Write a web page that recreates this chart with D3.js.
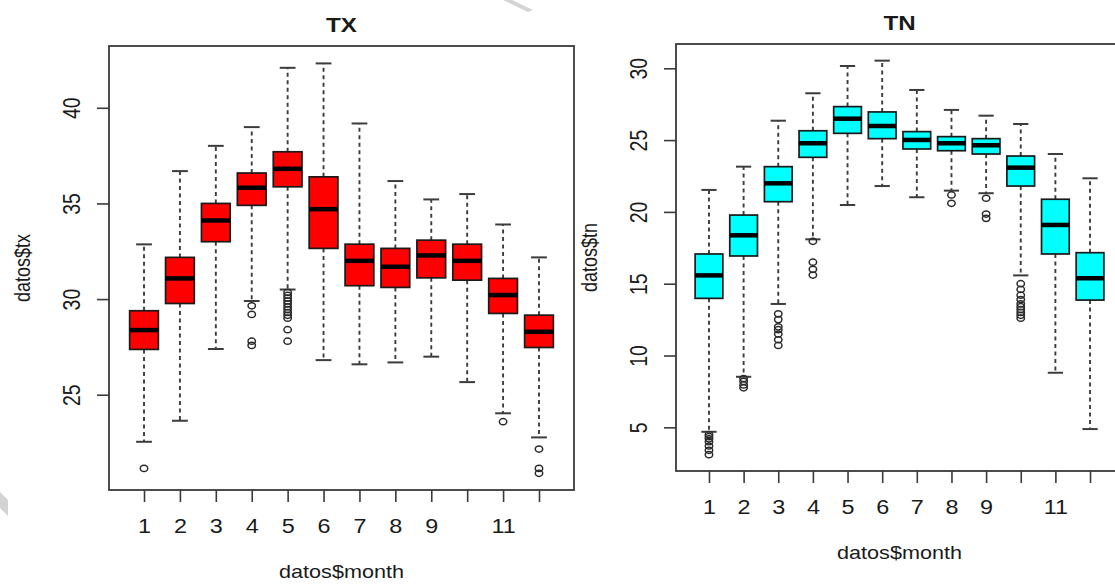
<!DOCTYPE html>
<html>
<head>
<meta charset="utf-8">
<script src="https://cdn.jsdelivr.net/npm/d3@7"></script>
<style>
  html, body { margin: 0; padding: 0; background: #fff; }
  svg { display: block; }
  text { font-family: "Liberation Sans", Arial, Helvetica, sans-serif; fill: #1a1a1a; }
</style>
</head>
<body>
<svg id="chart" width="1115" height="584"></svg>
<script>
// ---------- DATA ----------
const months = [1, 2, 3, 4, 5, 6, 7, 8, 9, 10, 11, 12];
const monthTickLabels = ["1", "2", "3", "4", "5", "6", "7", "8", "9", "", "11", ""];

// TX (maximum temperature)
const txLowWhisker  = [22.54, 23.64, 27.39, 29.90, 30.50, 26.81, 26.59, 26.69, 26.99, 25.66, 24.03, 22.77];
const txQ1          = [27.37, 29.77, 33.00, 34.90, 35.87, 32.65, 30.70, 30.61, 31.11, 30.99, 29.25, 27.47];
const txMedian      = [28.38, 31.08, 34.11, 35.82, 36.81, 34.70, 32.00, 31.69, 32.28, 32.00, 30.21, 28.29];
const txQ3          = [29.39, 32.18, 35.00, 36.59, 37.70, 36.39, 32.87, 32.65, 33.08, 32.87, 31.08, 29.16];
const txHighWhisker = [32.86, 36.69, 38.01, 38.99, 42.09, 42.32, 39.18, 36.17, 35.21, 35.49, 33.90, 32.18];
const txOutliers = [
  [21.15],
  [],
  [],
  [29.65, 29.2, 27.8, 27.58],
  [30.35, 30.2, 30.05, 29.9, 29.75, 29.6, 29.45, 29.3, 29.15, 29.0, 28.4, 27.8],
  [],
  [],
  [],
  [],
  [],
  [23.59],
  [22.16, 21.15, 20.89]
];
const txTicks = [25, 30, 35, 40];

// TN (minimum temperature)
const tnLowWhisker  = [4.69, 8.52, 13.59, 18.09, 20.48, 21.80, 21.02, 21.48, 21.30, 15.58, 8.80, 4.88];
const tnQ1          = [13.98, 16.93, 20.71, 23.80, 25.47, 25.10, 24.38, 24.26, 24.03, 21.80, 17.07, 13.86];
const tnMedian      = [15.58, 18.37, 21.99, 24.78, 26.49, 25.98, 25.01, 24.78, 24.64, 23.08, 19.09, 15.38];
const tnQ3          = [17.07, 19.78, 23.15, 25.65, 27.33, 26.96, 25.59, 25.24, 25.10, 23.89, 20.88, 17.16];
const tnHighWhisker = [21.53, 23.15, 26.35, 28.26, 30.16, 30.53, 28.49, 27.10, 26.70, 26.12, 24.03, 22.34];
const tnOutliers = [
  [4.5, 4.35, 4.2, 4.0, 3.7, 3.4, 3.1],
  [8.4, 8.2, 7.95, 7.75],
  [12.9, 12.5, 12.0, 11.8, 11.5, 11.1, 10.7],
  [17.95, 16.5, 16.0, 15.6],
  [],
  [],
  [],
  [21.18, 20.6],
  [20.95, 19.85, 19.55],
  [15.0, 14.6, 14.2, 13.9, 13.6, 13.4, 13.2, 13.0, 12.8, 12.6],
  [],
  []
];
const tnTicks = [5, 10, 15, 20, 25, 30];

// ---------- DRAWING ----------
const svg = d3.select("#chart");
svg.append("rect").attr("width", 1115).attr("height", 584).attr("fill", "#fff");

const SX = 1.2; // horizontal stretch of the original picture

function drawPanel(opt) {
  const { left, right, top, bottom, pad, yDomain, fill, title, ylab,
          lowW, q1, med, q3, highW, outliers, ticks } = opt;
  const g = svg.append("g");
  const x = d3.scalePoint().domain(months).range([left, right]).padding(pad);
  const y = d3.scaleLinear().domain(yDomain).range([bottom, top]);
  const step = x.step();
  const bw = step * 0.8;
  const sw = bw * 0.55;

  const data = months.map((m, i) => ({
    m, lo: lowW[i], q1: q1[i], med: med[i], q3: q3[i], hi: highW[i], out: outliers[i]
  }));

  // whiskers (dashed)
  const wg = g.append("g").attr("stroke", "#3c3c3c").attr("stroke-width", 1.9);
  wg.selectAll("line.wu").data(data).join("line")
    .attr("x1", d => x(d.m)).attr("x2", d => x(d.m))
    .attr("y1", d => y(d.q3)).attr("y2", d => y(d.hi))
    .attr("stroke-dasharray", "4,3.5");
  wg.selectAll("line.wl").data(data).join("line")
    .attr("x1", d => x(d.m)).attr("x2", d => x(d.m))
    .attr("y1", d => y(d.q1)).attr("y2", d => y(d.lo))
    .attr("stroke-dasharray", "4,3.5");
  // staples
  wg.selectAll("line.su").data(data).join("line")
    .attr("x1", d => x(d.m) - sw / 2).attr("x2", d => x(d.m) + sw / 2)
    .attr("y1", d => y(d.hi)).attr("y2", d => y(d.hi)).attr("stroke-width", 2);
  wg.selectAll("line.sl").data(data).join("line")
    .attr("x1", d => x(d.m) - sw / 2).attr("x2", d => x(d.m) + sw / 2)
    .attr("y1", d => y(d.lo)).attr("y2", d => y(d.lo)).attr("stroke-width", 2);

  // boxes
  g.selectAll("rect.box").data(data).join("rect")
    .attr("x", d => x(d.m) - bw / 2).attr("width", bw)
    .attr("y", d => y(d.q3)).attr("height", d => y(d.q1) - y(d.q3))
    .attr("fill", fill).attr("stroke", "#1a1a1a").attr("stroke-width", 1.7);
  // medians
  g.selectAll("line.med").data(data).join("line")
    .attr("x1", d => x(d.m) - bw / 2).attr("x2", d => x(d.m) + bw / 2)
    .attr("y1", d => y(d.med)).attr("y2", d => y(d.med))
    .attr("stroke", "#000").attr("stroke-width", 4.5);

  // outliers
  const outs = data.flatMap(d => d.out.map(v => ({ m: d.m, v })));
  g.selectAll("ellipse.out").data(outs).join("ellipse")
    .attr("cx", d => x(d.m)).attr("cy", d => y(d.v))
    .attr("rx", 3.7).attr("ry", 3.1)
    .attr("fill", "none").attr("stroke", "#2a2a2a").attr("stroke-width", 1.5);

  // frame box
  g.append("rect")
    .attr("x", left).attr("y", top)
    .attr("width", right - left).attr("height", bottom - top)
    .attr("fill", "none").attr("stroke", "#3a3a3a").attr("stroke-width", 1.8);

  // y axis
  const ya = g.append("g").attr("transform", `translate(${left},0)`)
    .call(d3.axisLeft(y).tickValues(ticks).tickSize(12).tickFormat(d3.format("d")));
  ya.select(".domain").remove();
  ya.selectAll("line").attr("stroke", "#3a3a3a").attr("stroke-width", 1.6);
  ya.selectAll("text")
    .attr("x", null).attr("dy", null).attr("y", 0)
    .attr("text-anchor", "middle")
    .attr("font-size", 19.5)
    .attr("fill", "#1a1a1a")
    .attr("transform", `translate(-29.5,0) scale(${SX},1) rotate(-90)`);

  // x axis
  const xa = g.append("g").attr("transform", `translate(0,${bottom})`)
    .call(d3.axisBottom(x).tickSize(12).tickFormat((d, i) => monthTickLabels[i]));
  xa.select(".domain").remove();
  xa.selectAll("line").attr("stroke", "#3a3a3a").attr("stroke-width", 1.6);
  xa.selectAll("text")
    .attr("y", 0).attr("dy", null)
    .attr("text-anchor", "middle")
    .attr("font-size", 19.5)
    .attr("fill", "#1a1a1a")
    .attr("transform", `translate(0,42.5) scale(${SX},1)`);

  // title
  g.append("text")
    .attr("transform", `translate(${(left + right) / 2},${top - 14}) scale(1.15,1)`)
    .attr("text-anchor", "middle").attr("font-weight", "bold").attr("font-size", 21)
    .attr("fill", "#111")
    .text(title);
  // x label
  g.append("text")
    .attr("transform", `translate(${(left + right) / 2},${bottom + 88}) scale(${SX},1)`)
    .attr("text-anchor", "middle").attr("font-size", 18)
    .text("datos$month");
  // y label
  g.append("text")
    .attr("transform", `translate(${left - 79},${(top + bottom) / 2}) scale(${SX},1) rotate(-90)`)
    .attr("text-anchor", "middle").attr("font-size", 18)
    .text(ylab);
}

drawPanel({
  left: 109, right: 574, top: 46, bottom: 490, pad: 0.975,
  yDomain: [20.02, 43.23], fill: "#ff0000", title: "TX", ylab: "datos$tx",
  lowW: txLowWhisker, q1: txQ1, med: txMedian, q3: txQ3, highW: txHighWhisker,
  outliers: txOutliers, ticks: txTicks
});

drawPanel({
  left: 676, right: 1123, top: 44, bottom: 471, pad: 0.952,
  yDomain: [1.96, 31.69], fill: "#00ffff", title: "TN", ylab: "datos$tn",
  lowW: tnLowWhisker, q1: tnQ1, med: tnMedian, q3: tnQ3, highW: tnHighWhisker,
  outliers: tnOutliers, ticks: tnTicks
});

// faint scan artefacts in the original picture
svg.append("polygon").attr("points", "503,0 512,0 533,10 528,12")
  .attr("fill", "#d4d4d4");
svg.append("polygon").attr("points", "0,492 8,500 8,516 0,508")
  .attr("fill", "#d4d4d4");
</script>
</body>
</html>
